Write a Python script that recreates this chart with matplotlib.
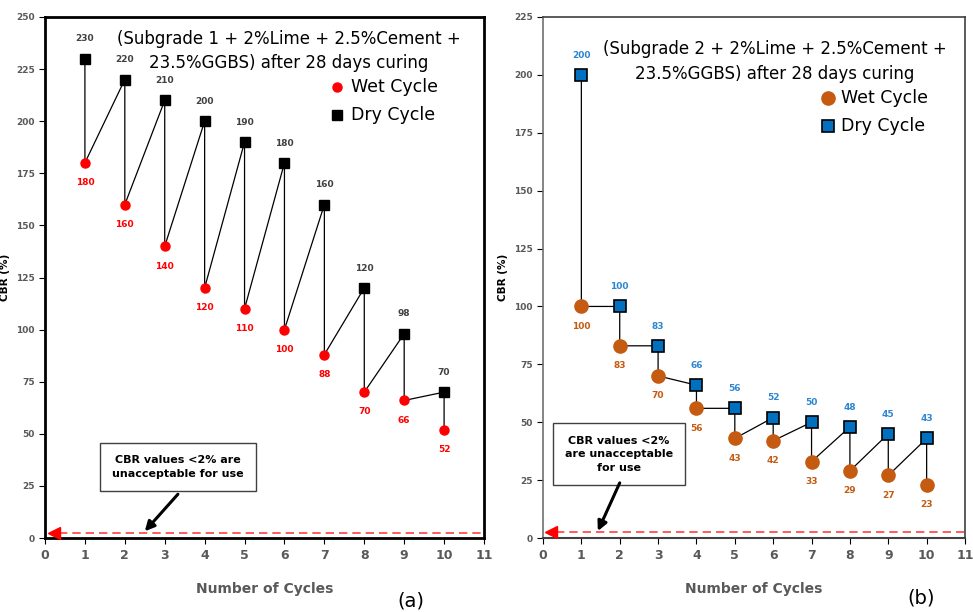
import matplotlib
matplotlib.use('Agg')
import matplotlib.pyplot as plt
import numpy as np

cycles = [1, 2, 3, 4, 5, 6, 7, 8, 9, 10]

# (a) Subgrade 1
dry_a = [230, 220, 210, 200, 190, 180, 160, 120, 98, 70]
wet_a = [180, 160, 140, 120, 110, 100, 88, 70, 66, 52]

# (b) Subgrade 2
dry_b = [200, 100, 83, 66, 56, 52, 50, 48, 45, 43]
wet_b = [100, 83, 70, 56, 43, 42, 33, 29, 27, 23]

title_a = "(Subgrade 1 + 2%Lime + 2.5%Cement +\n23.5%GGBS) after 28 days curing"
title_b = "(Subgrade 2 + 2%Lime + 2.5%Cement +\n23.5%GGBS) after 28 days curing"

TICK_GRAY = '#595959'


def zigzag(dry, wet):
  xs, ys = [], []
  for x, d, w in zip(cycles, dry, wet):
    xs += [x, x]
    ys += [d, w]
  return xs, ys


def draw_panel(ax, dry, wet, ymax, wet_style, dry_style, dry_lbl_col, wet_lbl_col,
               title, title_xy, leg_xy, box_xy, box_text, arrow_from, arrow_to, spine_style):
  xs, ys = zigzag(dry, wet)
  ax.plot(xs, ys, color='black', lw=0.9, zorder=2)
  ax.plot(cycles, wet, linestyle='none', zorder=3, **wet_style)
  ax.plot(cycles, dry, linestyle='none', zorder=3, **dry_style)
  for x, d, w in zip(cycles, dry, wet):
    ax.annotate(str(d), (x, d), xytext=(0, 11), textcoords='offset points',
                ha='center', va='bottom', fontsize=6.5, fontweight='bold', color=dry_lbl_col)
    ax.annotate(str(w), (x, w), xytext=(0, -11), textcoords='offset points',
                ha='center', va='top', fontsize=6.5, fontweight='bold', color=wet_lbl_col)

  ax.set_xlim(0, 11)
  ax.set_ylim(0, ymax)
  ax.set_xticks(range(0, 12))
  ax.set_yticks(np.arange(0, ymax + 1, 25))
  ax.tick_params(axis='x', direction='out', length=4, labelsize=9, labelcolor=TICK_GRAY, pad=4)
  ax.tick_params(axis='y', direction='out', length=4, labelsize=6.5, labelcolor=TICK_GRAY)
  for lbl in ax.get_xticklabels() + ax.get_yticklabels():
    lbl.set_fontweight('bold')

  for side, (col, lw) in spine_style.items():
    ax.spines[side].set_color(col)
    ax.spines[side].set_linewidth(lw)

  # limit line at CBR 2%
  ax.plot([0.35, 11], [2.6, 2.6], color='#FF4040', lw=1.2, ls=(0, (5, 3)), zorder=1)
  ax.plot([0.22], [2.6], marker='<', color='red', ms=8, clip_on=False, zorder=4)

  ax.text(title_xy[0], title_xy[1], title, transform=ax.transAxes, ha='center', va='top',
          fontsize=12, linespacing=1.45, color='black')

  # legend made of markers and text
  ax.plot([leg_xy[0]], [leg_xy[1]], transform=ax.transAxes, linestyle='none', clip_on=False, **wet_style)
  ax.plot([leg_xy[0]], [leg_xy[1] - 0.054], transform=ax.transAxes, linestyle='none', clip_on=False, **dry_style)
  ax.text(leg_xy[0] + 0.032, leg_xy[1], 'Wet Cycle', transform=ax.transAxes, va='center', fontsize=12.5)
  ax.text(leg_xy[0] + 0.032, leg_xy[1] - 0.054, 'Dry Cycle', transform=ax.transAxes, va='center', fontsize=12.5)

  ax.text(box_xy[0], box_xy[1], box_text, transform=ax.transAxes, ha='center', va='center',
          fontsize=8, fontweight='bold', linespacing=1.45,
          bbox=dict(boxstyle='square,pad=1.1', fc='white', ec='#404040', lw=1))
  ax.annotate('', xy=arrow_to, xytext=arrow_from, xycoords='data', textcoords='data',
              arrowprops=dict(arrowstyle='-|>', color='black', lw=2.2, mutation_scale=14,
                              shrinkA=0, shrinkB=0))

  ax.set_xlabel('Number of Cycles', fontsize=10, fontweight='bold', color=TICK_GRAY, labelpad=14)
  ax.set_ylabel('CBR (%)', fontsize=7.5, fontweight='bold', labelpad=4)


fig = plt.figure(figsize=(9.73, 6.12), dpi=100)
ax1 = fig.add_axes([45 / 973, 74 / 612, 439 / 973, 521 / 612])
ax2 = fig.add_axes([543 / 973, 74 / 612, 422 / 973, 521 / 612])

draw_panel(ax1, dry_a, wet_a, 250,
           dict(marker='o', ms=6.5, color='red', mec='red'),
           dict(marker='s', ms=7, color='black', mec='black'),
           '#404040', 'red', title_a, (0.555, 0.975), (0.665, 0.865),
           (0.303, 0.136), 'CBR values <2% are\nunacceptable for use', (3.33, 21), (2.5, 3.2),
           {'left': ('black', 2), 'bottom': ('black', 2), 'top': ('black', 2), 'right': ('black', 2)})

draw_panel(ax2, dry_b, wet_b, 225,
           dict(marker='o', ms=9.5, color='#C55A11', mec='#C55A11'),
           dict(marker='s', ms=8.5, color='#0070C0', mec='black', mew=1.2),
           '#2E86D1', '#C55A11', title_b, (0.55, 0.955), (0.675, 0.845),
           (0.18, 0.161), 'CBR values <2%\nare unacceptable\nfor use', (2.0, 23.8), (1.43, 3.0),
           {'left': ('#707070', 1.2), 'bottom': ('#404040', 1.5), 'top': ('#404040', 1.2), 'right': ('#404040', 1.2)})

fig.text(411 / 973, 1 - 601 / 612, '(a)', fontsize=14, ha='center', va='center')
fig.text(921 / 973, 1 - 598 / 612, '(b)', fontsize=14, ha='center', va='center')

fig.savefig('out.png', dpi=100)
